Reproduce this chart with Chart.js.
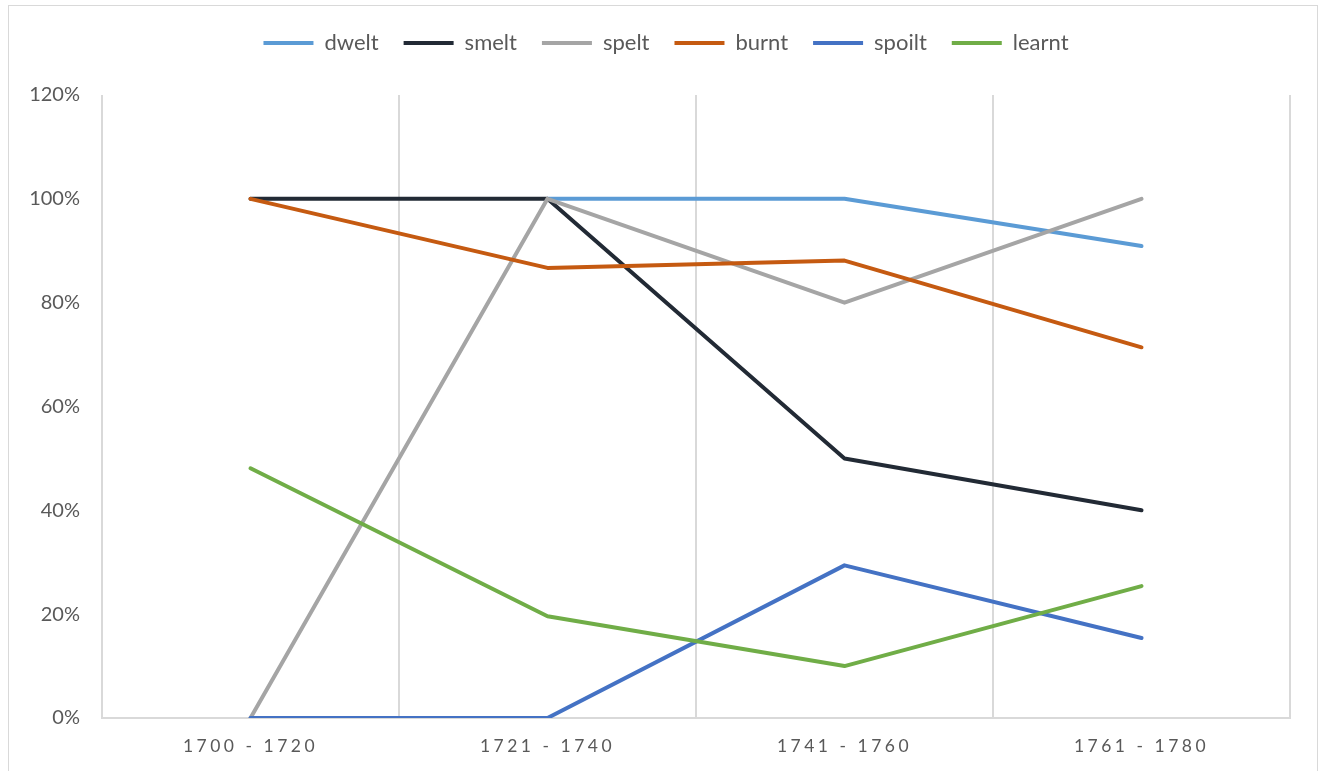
<!DOCTYPE html>
<html>
<head>
<meta charset="utf-8">
<script src="https://cdn.jsdelivr.net/npm/chart.js@4.4.1/dist/chart.umd.min.js"></script>
<style>
  html, body { margin: 0; padding: 0; background: #fff; overflow: hidden; }
  #frame { position: absolute; left: 8px; top: 5px; width: 1308px; height: 800px; border: 1px solid #d9d9d9; }
  #wrap { position: absolute; left: 0; top: 0; width: 1320px; height: 771px; }
</style>
</head>
<body>
<div id="frame"></div>
<div id="wrap"><canvas id="lineChart" width="1320" height="771"></canvas></div>
<script>
// categories and series (in %)
const periods = ['1700 - 1720', '1721 - 1740', '1741 - 1760', '1761 - 1780'];
const dwelt  = [null, 100, 100, 90.9];
const smelt  = [100, 100, 50, 40];
const spelt  = [0, 100, 80, 100];
const burnt  = [100, 86.7, 88.1, 71.4];
const spoilt = [0, 0, 29.4, 15.4];
const learnt = [48.1, 19.6, 10, 25.4];
const yTicks = [0, 20, 40, 60, 80, 100, 120];

const names  = ['dwelt', 'smelt', 'spelt', 'burnt', 'spoilt', 'learnt'];
const series = [dwelt, smelt, spelt, burnt, spoilt, learnt];
const colors = ['#5B9BD5', '#222A35', '#A5A5A5', '#C55A11', '#4472C4', '#70AD47'];

const FONT = 'Lato, "Open Sans", sans-serif';
const TEXT = '#595959';

// excel-like tweaks: room under the legend, spaced category labels
const excelLook = {
    id: 'excelLook',
    beforeLayout(chart) {
        let lg = chart.legend;
        if (lg && !lg._extra) {
            let fit = lg.fit;
            lg.fit = function () {
                fit.call(this);
                this.height += 31;
            };
            lg._extra = true;
        }
    },
    afterLayout(chart) {
        // legend sits a little right of centre in the original
        let lg = chart.legend;
        if (lg) {
            lg.left += 21;
            lg.right += 21;
        }
    },
    beforeDraw(chart) {
        let xs = chart.scales.x;
        if (xs._spaced) return;
        let orig = xs.drawLabels;
        xs.drawLabels = function (area) {
            this.ctx.save();
            this.ctx.letterSpacing = '3.5px';
            orig.call(this, area);
            this.ctx.restore();
        };
        xs._spaced = true;
    }
};

let ctx = document.getElementById('lineChart').getContext('2d');
let lineChart = new Chart(ctx, {
    type: 'line',
    data: {
        labels: periods,
        datasets: names.map((n, i) => ({
            label: n,
            data: series[i],
            borderColor: colors[i],
            backgroundColor: colors[i],
            borderWidth: 4,
            borderCapStyle: 'round',
            borderJoinStyle: 'round',
            pointRadius: 0,
            tension: 0,
            order: names.length - i
        }))
    },
    options: {
        responsive: false,
        animation: false,
        layout: { padding: { left: 0, right: 30, top: 7, bottom: 0 } },
        plugins: {
            legend: {
                position: 'top',
                labels: {
                    usePointStyle: true,
                    pointStyle: 'line',
                    pointStyleWidth: 50,
                    padding: 25,
                    color: TEXT,
                    font: { family: FONT, size: 22 },
                    sort: (a, b) => a.datasetIndex - b.datasetIndex
                }
            },
            tooltip: { enabled: false }
        },
        scales: {
            x: {
                offset: true,
                grid: { offset: true, color: '#d9d9d9', lineWidth: 2, drawTicks: false },
                border: { color: '#d9d9d9', width: 2 },
                ticks: { color: TEXT, font: { family: FONT, size: 17.5 }, padding: 18, maxRotation: 0 },
                afterFit: s => { s.height = 53; }
            },
            y: {
                min: 0,
                max: 120,
                grid: { display: false, drawTicks: false },
                border: { display: false },
                afterBuildTicks: s => { s.ticks = yTicks.map(v => ({ value: v })); },
                ticks: {
                    color: TEXT,
                    font: { family: FONT, size: 20 },
                    padding: 22,
                    callback: v => v + '%'
                },
                afterFit: s => { s.width = 102; }
            }
        }
    },
    plugins: [excelLook]
});
</script>
</body>
</html>
